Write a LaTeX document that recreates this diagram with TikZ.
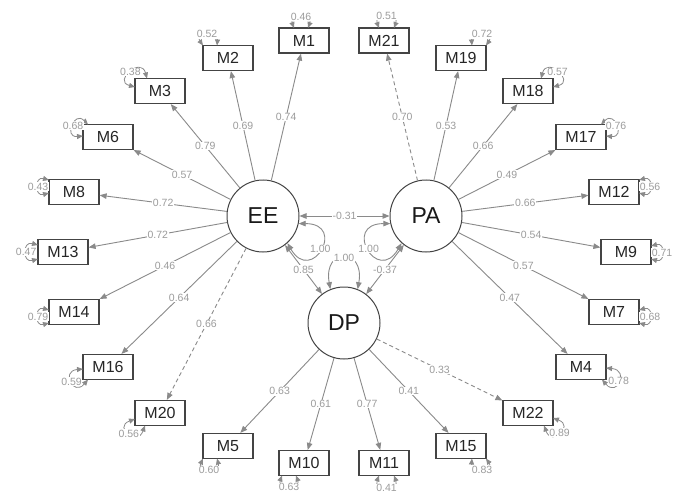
\documentclass[tikz,border=0pt]{standalone}
\usepackage{fontspec}
\setmainfont{Liberation Sans}
\usetikzlibrary{arrows.meta}
\definecolor{edgegray}{HTML}{8A8A8A}
\definecolor{lblgray}{HTML}{9C9C9C}
\definecolor{boxgray}{HTML}{444444}
\newcommand\rloop[7]{\draw[resid] ([shift={(#2)}]#1.center) to[out=#4,in=#5,looseness=#7] node[elbl]{#6} ([shift={(#3)}]#1.center);}
\begin{document}
\begin{tikzpicture}[x=1pt,y=1pt,
  mv/.style={draw=boxgray, line width=1.2pt, minimum width=50pt, minimum height=25pt, inner sep=0pt, font=\fontsize{16}{16}\selectfont, text=black!85},
  lv/.style={draw=boxgray, line width=1pt, circle, minimum size=72pt, inner sep=0pt, font=\fontsize{23}{23}\selectfont, text=black!90},
  load/.style={draw=edgegray, line width=0.9pt, -{Triangle[length=7pt,width=5.5pt]}},
  fixed/.style={load, dash pattern=on 4pt off 3pt},
  cov/.style={draw=edgegray, line width=0.9pt, {Triangle[length=7pt,width=5.5pt]}-{Triangle[length=7pt,width=5.5pt]}},
  resid/.style={draw=edgegray, line width=0.8pt, {Triangle[length=6pt,width=5pt]}-{Triangle[length=6pt,width=5pt]}},
  elbl/.style={fill=white, inner sep=0.6pt, text=lblgray, font=\fontsize{10.5}{10.5}\selectfont},
]
\fill[white] (0,0) rectangle (685,-492);
\useasboundingbox (0,0) rectangle (685,-492);
% latent
\node[lv] (EE) at (263,-216) {EE};
\node[lv] (PA) at (426,-216) {PA};
\node[lv] (DP) at (344,-323) {DP};
% manifest
\node[mv] (M1) at (304,-40.5) {M1};
\node[mv] (M21) at (384,-40.5) {M21};
\node[mv] (M2) at (228,-58) {M2};
\node[mv] (M19) at (461,-58) {M19};
\node[mv] (M3) at (160,-91) {M3};
\node[mv] (M18) at (528,-91) {M18};
\node[mv] (M6) at (108,-137) {M6};
\node[mv] (M17) at (581,-137) {M17};
\node[mv] (M8) at (74,-192) {M8};
\node[mv] (M12) at (614,-192) {M12};
\node[mv] (M13) at (63,-252) {M13};
\node[mv] (M9) at (626,-252) {M9};
\node[mv] (M14) at (74,-312) {M14};
\node[mv] (M7) at (614,-312) {M7};
\node[mv] (M16) at (108,-367) {M16};
\node[mv] (M4) at (581,-367) {M4};
\node[mv] (M20) at (160,-413) {M20};
\node[mv] (M22) at (528,-413) {M22};
\node[mv] (M5) at (228,-446) {M5};
\node[mv] (M15) at (461,-446) {M15};
\node[mv] (M10) at (304,-463) {M10};
\node[mv] (M11) at (384,-463) {M11};
% loadings EE
\draw[load] (EE) -- node[elbl]{0.74} (M1);
\draw[load] (EE) -- node[elbl]{0.69} (M2);
\draw[load] (EE) -- node[elbl]{0.79} (M3);
\draw[load] (EE) -- node[elbl]{0.57} (M6);
\draw[load] (EE) -- node[elbl]{0.72} (M8);
\draw[load] (EE) -- node[elbl]{0.72} (M13);
\draw[load] (EE) -- node[elbl]{0.46} (M14);
\draw[load] (EE) -- node[elbl]{0.64} (M16);
\draw[fixed] (EE) -- node[elbl]{0.66} (M20);
% loadings PA
\draw[fixed] (PA) -- node[elbl]{0.70} (M21);
\draw[load] (PA) -- node[elbl]{0.53} (M19);
\draw[load] (PA) -- node[elbl]{0.66} (M18);
\draw[load] (PA) -- node[elbl]{0.49} (M17);
\draw[load] (PA) -- node[elbl]{0.66} (M12);
\draw[load] (PA) -- node[elbl]{0.54} (M9);
\draw[load] (PA) -- node[elbl]{0.57} (M7);
\draw[load] (PA) -- node[elbl]{0.47} (M4);
% loadings DP
\draw[load] (DP) -- node[elbl]{0.63} (M5);
\draw[load] (DP) -- node[elbl]{0.61} (M10);
\draw[load] (DP) -- node[elbl]{0.77} (M11);
\draw[load] (DP) -- node[elbl]{0.41} (M15);
\draw[fixed] (DP) -- node[elbl]{0.33} (M22);
% covariances
\draw[cov] (EE) -- node[elbl]{-0.31} (PA);
\draw[cov] (EE) -- node[elbl]{0.85} (DP);
\draw[cov] (PA) -- node[elbl]{-0.37} (DP);
% latent variances
\draw[cov] (EE.-12) to[out=0,in=-60,looseness=5.5] node[elbl]{1.00} (EE.-48);
\draw[cov] (PA.192) to[out=180,in=240,looseness=5.5] node[elbl]{1.00} (PA.228);
\draw[cov] (DP.112) to[out=100,in=80,looseness=4] node[elbl]{1.00} (DP.68);
% residuals
\rloop{M1}{-10,12.5}{4,12.5}{110}{70}{0.46}{3}
\rloop{M21}{-5,12.5}{10,12.5}{110}{70}{0.51}{3}
\rloop{M2}{-25,12.5}{-11,12.5}{125}{85}{0.52}{3}
\rloop{M19}{11,12.5}{25,12.5}{95}{55}{0.72}{3}
\rloop{M3}{-25,4}{-13,12.5}{165}{105}{0.38}{4}
\rloop{M18}{13,12.5}{25,4}{75}{15}{0.57}{4}
\rloop{M6}{-20,12.5}{-25,1}{135}{185}{0.68}{4}
\rloop{M17}{20,12.5}{25,1}{45}{-5}{0.76}{4}
\rloop{M8}{-25,12}{-25,-1}{165}{195}{0.43}{3}
\rloop{M13}{-25,7}{-25,-7}{165}{195}{0.47}{3}
\rloop{M14}{-25,2}{-25,-11}{165}{195}{0.79}{3}
\rloop{M16}{-25,-2}{-20,-12.5}{185}{230}{0.59}{5}
\rloop{M20}{-25,-6}{-15,-12.5}{200}{250}{0.56}{5}
\rloop{M5}{-25,-12.5}{-11,-12.5}{245}{285}{0.60}{3}
\rloop{M10}{-22,-12.5}{-8,-12.5}{250}{290}{0.63}{3}
\rloop{M11}{-5,-12.5}{10,-12.5}{250}{290}{0.41}{3}
\rloop{M15}{11,-12.5}{25,-12.5}{265}{305}{0.83}{3}
\rloop{M22}{16,-12.5}{25,-5}{290}{340}{0.89}{5}
\rloop{M4}{25,-1}{21,-12.5}{355}{310}{0.78}{5}
\rloop{M7}{25,2}{25,-11}{15}{-15}{0.68}{3}
\rloop{M9}{25,6}{25,-7}{15}{-15}{0.71}{3}
\rloop{M12}{25,12}{25,-1}{15}{-15}{0.56}{3}
\end{tikzpicture}
\end{document}
